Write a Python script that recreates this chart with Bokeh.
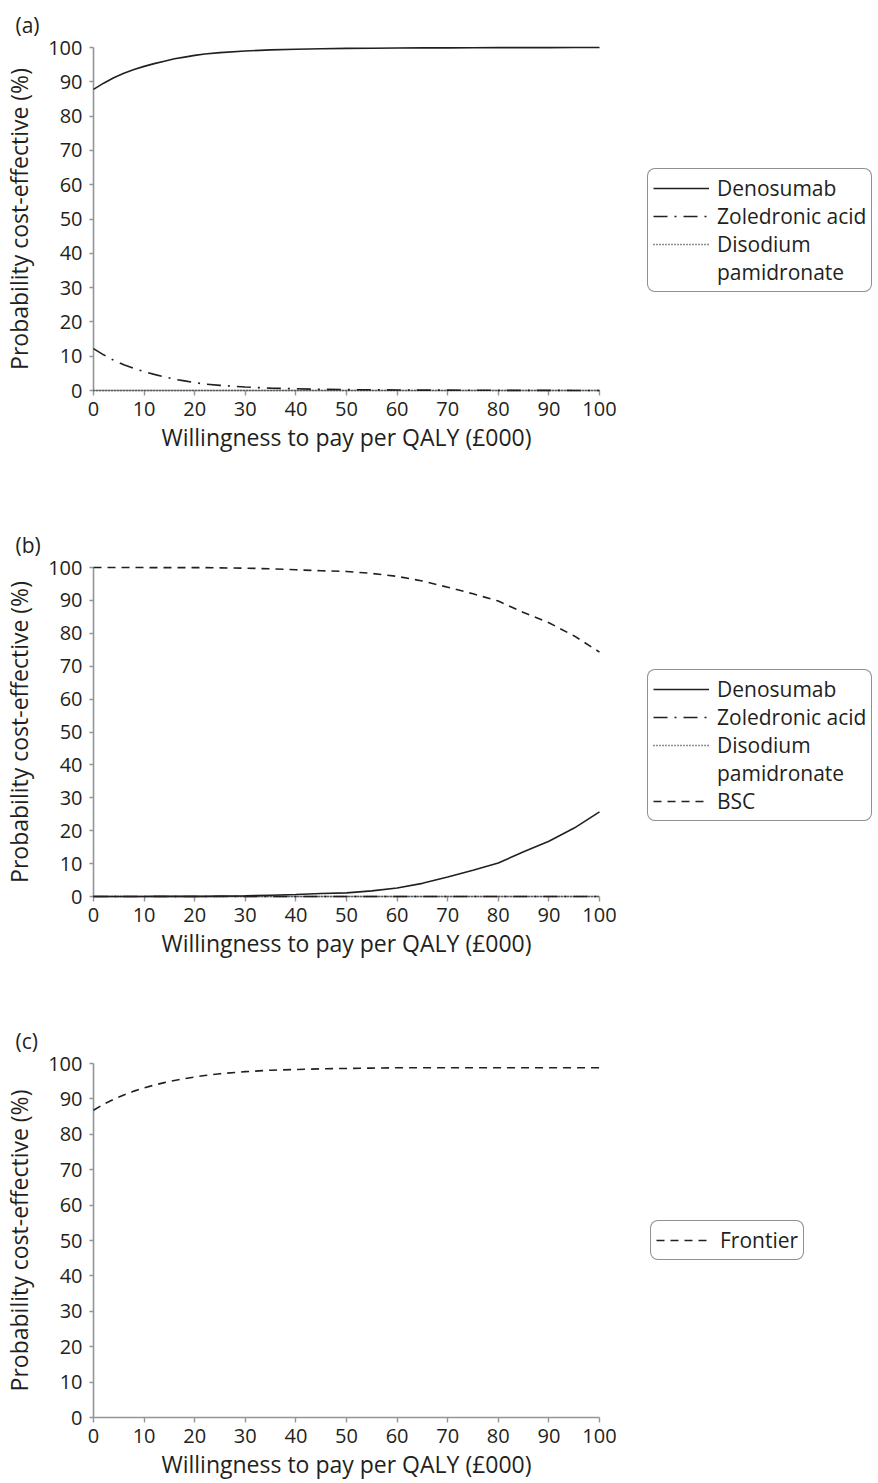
from bokeh.plotting import figure
from bokeh.layouts import column, row
from bokeh.models import Range1d, FixedTicker, Legend, LegendItem
from bokeh.embed import file_html
from bokeh.resources import INLINE

# ---------------- data ----------------
wtp = [0, 2, 4, 6, 8, 10, 12, 14, 16, 18, 20, 22, 25, 30, 35, 40, 45, 50,
       55, 60, 65, 70, 75, 80, 85, 90, 95, 100]

# (a)
a_denosumab = [87.8, 89.6, 91.2, 92.5, 93.6, 94.5, 95.3, 96.0, 96.7, 97.2, 97.7, 98.1, 98.5,
               99.0, 99.3, 99.5, 99.65, 99.75, 99.8, 99.85, 99.9, 99.9, 99.92, 99.95, 99.95,
               99.97, 99.98, 99.98]
a_zoledronic = [12.2, 10.4, 8.8, 7.5, 6.4, 5.5, 4.7, 4.0, 3.3, 2.8, 2.3, 1.9, 1.5, 1.0, 0.7,
                0.5, 0.35, 0.25, 0.2, 0.15, 0.1, 0.1, 0.08, 0.05, 0.05, 0.03, 0.02, 0.02]
a_disodium = [0.0] * len(wtp)

# (b)
b_denosumab = [0.0, 0.0, 0.0, 0.0, 0.0, 0.02, 0.03, 0.04, 0.05, 0.05, 0.05, 0.05, 0.1, 0.2,
               0.4, 0.6, 0.9, 1.1, 1.7, 2.6, 4.0, 5.9, 8.0, 10.2, 13.6, 16.8, 20.8, 25.7]
b_zoledronic = [0.0] * len(wtp)
b_disodium = [0.0] * len(wtp)
b_bsc = [100, 100, 100, 100, 100, 99.98, 99.97, 99.96, 99.95, 99.95, 99.95, 99.95, 99.9,
         99.8, 99.6, 99.3, 99.0, 98.8, 98.2, 97.3, 95.9, 94.0, 92.0, 89.8, 86.3, 83.2,
         79.2, 74.3]

# (c)
c_frontier = [86.8, 88.5, 89.9, 91.1, 92.2, 93.1, 93.9, 94.6, 95.2, 95.7, 96.2, 96.6, 97.1,
              97.7, 98.1, 98.3, 98.5, 98.6, 98.7, 98.8, 98.8, 98.8, 98.8, 98.8, 98.8, 98.8,
              98.8, 98.8]

x_ticks = list(range(0, 101, 10))
y_ticks = list(range(0, 101, 10))
x_title = "Willingness to pay per QALY (£000)"
y_title = "Probability cost-effective (%)"

# ---------------- style ----------------
FONT = "Open Sans"
TICK_FS = "20px"
TITLE_FS = "23px"
LEG_FS = "21px"
LETTER_FS = "21px"
TXT = "#231f20"
AXC = "#939598"

SOLID = "solid"
DASHDOT = "14 7 2 7"
DOTTED = "1 2"
DASHED = "8 6"

CHART_W = 617
LEG_W = 260
BORDER_L = 88
BORDER_R = 18


def make_chart(letter, height, top, bottom, series):
    p = figure(width=CHART_W, height=height,
               x_range=Range1d(0, 100), y_range=Range1d(0, 100),
               output_backend="svg", toolbar_location=None,
               min_border_left=BORDER_L, min_border_right=BORDER_R,
               min_border_top=top, min_border_bottom=bottom)
    p.outline_line_color = None
    p.grid.visible = False
    p.background_fill_color = "white"
    p.border_fill_color = "white"

    p.title.text = letter
    p.title.align = "left"
    p.title.offset = -78
    p.title.standoff = 17
    p.title.text_font = FONT
    p.title.text_font_size = LETTER_FS
    p.title.text_font_style = "normal"
    p.title.text_color = TXT

    p.xaxis.ticker = FixedTicker(ticks=x_ticks)
    p.yaxis.ticker = FixedTicker(ticks=y_ticks)
    for ax in (p.xaxis[0], p.yaxis[0]):
        ax.axis_line_color = AXC
        ax.axis_line_width = 1.6
        ax.major_tick_line_color = AXC
        ax.major_tick_line_width = 1.4
        ax.major_tick_in = 0
        ax.minor_tick_line_color = None
        ax.major_label_text_font = FONT
        ax.major_label_text_font_size = TICK_FS
        ax.major_label_text_color = TXT
        ax.axis_label_text_font = FONT
        ax.axis_label_text_font_size = TITLE_FS
        ax.axis_label_text_font_style = "normal"
        ax.axis_label_text_color = TXT
    p.xaxis.major_tick_out = 5
    p.xaxis.major_label_standoff = 6
    p.xaxis.axis_label_standoff = 2
    p.xaxis.axis_label = x_title
    p.yaxis.major_tick_out = 4
    p.yaxis.major_label_standoff = 7
    p.yaxis.axis_label_standoff = 10
    p.yaxis.axis_label = y_title

    for label, ys, dash, shown in series:
        if not shown:
            continue
        r = p.line(wtp, ys, line_color=TXT, line_width=1.6, line_dash=dash)
        r.level = "overlay"
    return p


def make_legend(height, series, legend_xy):
    q = figure(width=LEG_W, height=height, x_range=Range1d(0, 100), y_range=Range1d(0, 100),
               x_axis_type=None, y_axis_type=None,
               output_backend="svg", toolbar_location=None,
               min_border_left=0, min_border_right=0, min_border_top=0, min_border_bottom=0)
    q.outline_line_color = None
    q.grid.visible = False
    q.background_fill_color = "white"
    q.border_fill_color = "white"

    items = []
    for label, ys, dash, shown in series:
        r = q.line(wtp, ys, line_color=TXT, line_width=1.6, line_dash=dash,
                   line_alpha=1.0 if shown else 0.0)
        r.visible = False
        items.append(LegendItem(label=label, renderers=[r]))

    legend = Legend(items=items, location=legend_xy, orientation="vertical")
    legend.label_text_font = FONT
    legend.label_text_font_size = LEG_FS
    legend.label_text_color = TXT
    legend.glyph_width = 56
    legend.glyph_height = 20
    legend.label_height = 20
    legend.label_standoff = 8
    legend.spacing = 0
    legend.padding = 5
    legend.margin = 0
    legend.border_line_color = TXT
    legend.border_line_width = 1.4
    legend.background_fill_color = "white"
    legend.background_fill_alpha = 1.0
    legend.inactive_fill_alpha = 0.0
    legend.click_policy = "none"
    try:
        legend.border_radius = 8
    except Exception:
        pass
    q.add_layout(legend)
    return q


series_a = [
    ("Denosumab", a_denosumab, SOLID, True),
    ("Zoledronic acid", a_zoledronic, DASHDOT, True),
    ("Disodium", a_disodium, DOTTED, True),
    ("pamidronate", a_disodium, DOTTED, False),
]
series_b = [
    ("Denosumab", b_denosumab, SOLID, True),
    ("Zoledronic acid", b_zoledronic, DASHDOT, True),
    ("Disodium", b_disodium, DOTTED, True),
    ("pamidronate", b_disodium, DOTTED, False),
    ("BSC", b_bsc, DASHED, True),
]
series_c = [
    ("Frontier", c_frontier, DASHED, True),
]

pa = make_chart("(a)", 509, 46, 119, series_a)
la = make_legend(509, series_a, (30, 98))
pb = make_chart("(b)", 490, 58, 103, series_b)
lb = make_legend(490, series_b, (30, 75))
pc = make_chart("(c)", 483, 64, 63, series_c)
lc = make_legend(483, series_c, (33, 157))

layout = column(row(pa, la, spacing=0), row(pb, lb, spacing=0), row(pc, lc, spacing=0),
                spacing=0)

open("out.html", "w").write(file_html(layout, INLINE))
